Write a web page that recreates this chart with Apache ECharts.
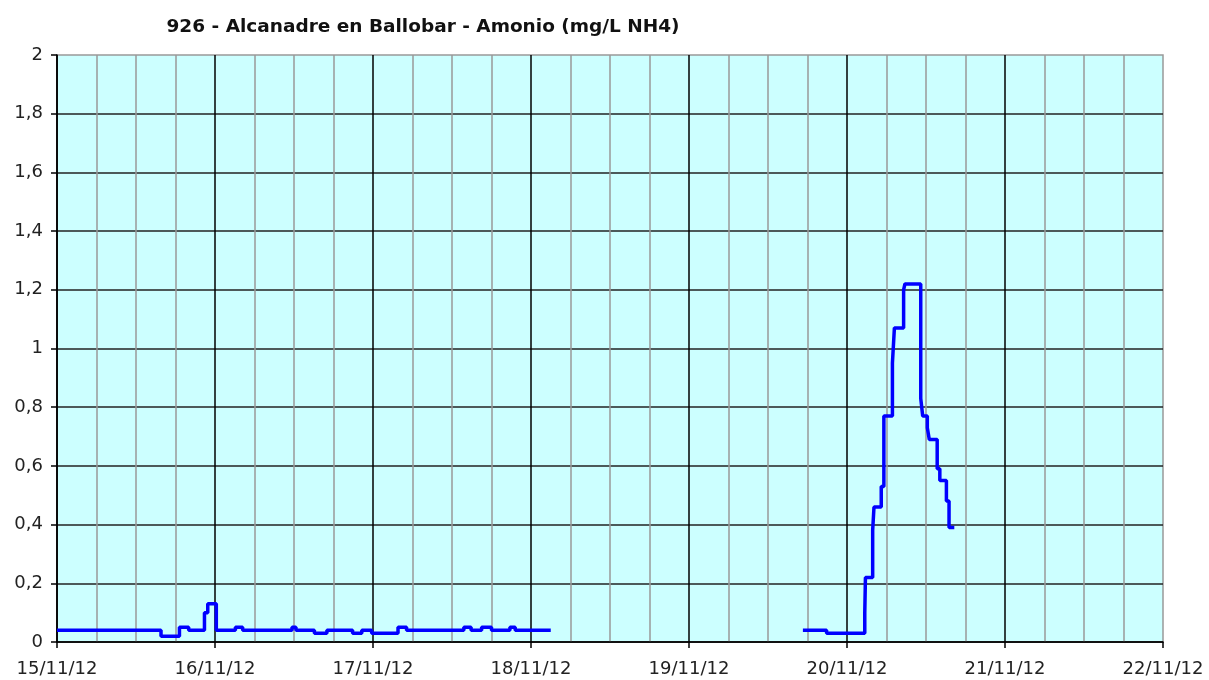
<!DOCTYPE html>
<html>
<head>
<meta charset="utf-8">
<title>926 - Alcanadre en Ballobar - Amonio</title>
<script src="https://cdn.jsdelivr.net/npm/echarts@6/dist/echarts.min.js"></script>
<style>
  html, body { margin: 0; padding: 0; background: #fff; }
  #chart { width: 1209px; height: 680px; }
</style>
</head>
<body>
<div id="chart"></div>
<script>
  // tramo 1: 15/11 - 18/11 (cambios de valor, escalonado)
  var times1 = ['2012-11-15 00:00', '2012-11-15 15:48', '2012-11-15 18:36', '2012-11-15 20:00',
    '2012-11-15 22:24', '2012-11-15 22:54', '2012-11-16 00:12', '2012-11-16 03:06',
    '2012-11-16 04:12', '2012-11-16 11:42', '2012-11-16 12:18', '2012-11-16 15:06',
    '2012-11-16 17:00', '2012-11-16 20:54', '2012-11-16 22:18', '2012-11-16 23:48',
    '2012-11-17 03:48', '2012-11-17 05:06', '2012-11-17 13:48', '2012-11-17 14:54',
    '2012-11-17 16:30', '2012-11-17 18:00', '2012-11-17 20:48', '2012-11-17 21:36',
    '2012-11-18 02:30']
  var values1 = [0.04, 0.02, 0.05, 0.04,
    0.10, 0.13, 0.04, 0.05,
    0.04, 0.05, 0.04, 0.03,
    0.04, 0.03, 0.04, 0.03,
    0.05, 0.04, 0.05, 0.04,
    0.05, 0.04, 0.05, 0.04,
    0.04]

  // tramo 2: 19/11 - 20/11
  var times2 = ['2012-11-19 17:18', '2012-11-19 20:54', '2012-11-20 02:42', '2012-11-20 02:48',
    '2012-11-20 03:54', '2012-11-20 04:06', '2012-11-20 05:12', '2012-11-20 05:36',
    '2012-11-20 06:54', '2012-11-20 07:12', '2012-11-20 08:36', '2012-11-20 08:48',
    '2012-11-20 11:12', '2012-11-20 11:30', '2012-11-20 12:12', '2012-11-20 12:30',
    '2012-11-20 13:42', '2012-11-20 14:06', '2012-11-20 15:06', '2012-11-20 15:30',
    '2012-11-20 16:18']
  var values2 = [0.04, 0.03, 0.10, 0.22,
    0.38, 0.46, 0.53, 0.77,
    0.95, 1.07, 1.20, 1.22,
    0.83, 0.77, 0.73, 0.69,
    0.59, 0.55, 0.48, 0.39,
    0.39]

  var gapTime = '2012-11-18 03:00'
  var xStart = '2012-11-15 00:00'
  var xEnd = '2012-11-22 00:00'
  var DAY = 86400000

  function toMs (s) {
    return new Date(s.replace(' ', 'T') + ':00Z').getTime()
  }
  function pad (n) {
    return (n < 10 ? '0' : '') + n
  }

  var data = []
  for (var i = 0; i < times1.length; i++) {
    data.push([toMs(times1[i]), values1[i]])
  }
  data.push([toMs(gapTime), null])
  for (var j = 0; j < times2.length; j++) {
    data.push([toMs(times2[j]), values2[j]])
  }

  var chart = echarts.init(document.getElementById('chart'))
  var font = 'DejaVu Sans, Verdana, sans-serif'
  chart.setOption({
    animation: false,
    title: {
      text: '926 - Alcanadre en Ballobar - Amonio (mg/L NH4)',
      left: 418,
      top: 13,
      textAlign: 'center',
      textStyle: { fontFamily: font, fontSize: 18.5, fontWeight: 'bold', color: '#111' }
    },
    grid: {
      left: 57,
      right: 46,
      top: 55,
      bottom: 38,
      show: true,
      backgroundColor: '#ccffff',
      borderColor: '#999',
      borderWidth: 1.5
    },
    xAxis: {
      type: 'value',
      min: toMs(xStart),
      max: toMs(xEnd),
      interval: DAY,
      axisLine: { lineStyle: { color: '#000', width: 1.5 } },
      axisTick: { show: true, length: 6, lineStyle: { color: '#000', width: 1.5 } },
      axisLabel: {
        fontFamily: font,
        fontSize: 18,
        color: '#222',
        margin: 18,
        formatter: function (v) {
          var d = new Date(v)
          return pad(d.getUTCDate()) + '/' + pad(d.getUTCMonth() + 1) + '/' + String(d.getUTCFullYear()).slice(2)
        }
      },
      splitLine: { show: true, showMaxLine: false, lineStyle: { color: '#000', width: 1.5 } },
      minorTick: { show: false, splitNumber: 4 },
      minorSplitLine: { show: true, lineStyle: { color: '#999', width: 1.5 } }
    },
    yAxis: {
      type: 'value',
      min: 0,
      max: 2,
      interval: 0.2,
      axisLine: { show: true, lineStyle: { color: '#000', width: 1.5 } },
      axisTick: { show: true, length: 6, lineStyle: { color: '#000', width: 1.5 } },
      axisLabel: {
        fontFamily: font,
        fontSize: 18,
        color: '#222',
        margin: 14,
        formatter: function (v) {
          return String(Math.round(v * 10) / 10).replace('.', ',')
        }
      },
      splitLine: { show: true, showMaxLine: false, lineStyle: { color: '#222', width: 1.5 } }
    },
    series: [{
      type: 'line',
      step: 'end',
      data: data,
      showSymbol: false,
      connectNulls: false,
      lineStyle: { color: '#0000ff', width: 3.5 },
      itemStyle: { color: '#0000ff' }
    }]
  })
</script>
</body>
</html>
